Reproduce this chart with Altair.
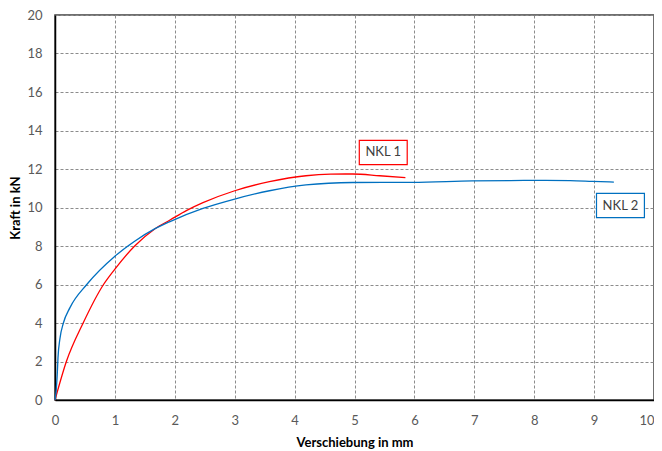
import altair as alt
import pandas as pd

# NKL 1 (red)
nkl1_x = [0.0, 0.19, 0.47, 0.81, 1.0, 1.33, 1.67, 1.92, 2.2, 2.47, 3.0, 3.58, 4.19, 4.6, 4.97, 5.42, 5.85]
nkl1_y = [0.0, 2.0, 4.0, 6.0, 6.8, 8.0, 8.9, 9.35, 9.85, 10.25, 10.87, 11.34, 11.65, 11.73, 11.74, 11.65, 11.55]

# NKL 2 (blue)
nkl2_x = [0.0, 0.02, 0.04, 0.05, 0.083, 0.14, 0.25, 0.53, 1.0, 1.33, 1.67, 1.92, 2.47, 3.0, 3.58, 4.19, 4.97, 5.97, 6.97, 7.6, 8.19, 8.6, 8.97, 9.33]
nkl2_y = [0.0, 0.5, 1.5, 2.2, 3.2, 4.0, 4.8, 6.0, 7.47, 8.25, 8.9, 9.27, 9.95, 10.44, 10.87, 11.17, 11.3, 11.31, 11.38, 11.4, 11.41, 11.4, 11.36, 11.32]

label_names = ["NKL 1", "NKL 2"]
label_x = [5.48, 9.44]
label_y = [12.86, 10.1]
label_colors = ["#ff0000", "#0070c0"]

rows = []
for i, (x, y) in enumerate(zip(nkl1_x, nkl1_y)):
    rows.append({"series": "NKL 1", "x": x, "y": y, "i": i})
for i, (x, y) in enumerate(zip(nkl2_x, nkl2_y)):
    rows.append({"series": "NKL 2", "x": x, "y": y, "i": i})
df = pd.DataFrame(rows)

box_w, box_h = 0.4, 0.63
lab = pd.DataFrame({
    "name": label_names,
    "x": label_x,
    "y": label_y,
    "x0": [v - box_w for v in label_x],
    "x1": [v + box_w for v in label_x],
    "y0": [v - box_h for v in label_y],
    "y1": [v + box_h for v in label_y],
})

xscale = alt.Scale(domain=[0, 10], nice=False, zero=False)
yscale = alt.Scale(domain=[0, 20], nice=False, zero=False)
color_scale = alt.Scale(domain=label_names, range=label_colors)

xaxis = alt.Axis(title="Verschiebung in mm", values=list(range(0, 11)), format="d",
                 grid=True, gridDash=[3, 2], gridColor="#8c8c8c", gridWidth=1,
                 ticks=False, labelPadding=14, labelFontSize=13, labelColor="#595959",
                 labelOverlap=False, labelFlush=False,
                 labelAlign={"condition": {"test": "datum.value >= 10", "value": "right"}, "value": "center"},
                 labelFont="Lato", titleFont="Lato", titleFontSize=13, titleFontWeight="bold",
                 titleColor="#000000", titlePadding=9, domainColor="#000000", domainWidth=1.5)
yaxis = alt.Axis(title="Kraft in kN", values=list(range(0, 21, 2)), format="d",
                 grid=True, gridDash=[3, 2], gridColor="#8c8c8c", gridWidth=1,
                 ticks=False, labelPadding=13, labelFontSize=13, labelColor="#595959",
                 labelOverlap=False, labelFlush=False,
                 labelFont="Lato", titleFont="Lato", titleFontSize=13, titleFontWeight="bold",
                 titleColor="#000000", titlePadding=4, domainColor="#000000", domainWidth=1.5)

lines = alt.Chart(df).mark_line(strokeWidth=1.3, interpolate="monotone").encode(
    x=alt.X("x:Q", scale=xscale, axis=xaxis),
    y=alt.Y("y:Q", scale=yscale, axis=yaxis),
    color=alt.Color("series:N", scale=color_scale, legend=None),
    order="i:Q",
    detail="series:N",
)

boxes = alt.Chart(lab).mark_rect(fill="white", strokeWidth=1.2).encode(
    x=alt.X("x0:Q", scale=xscale, axis=xaxis),
    x2="x1:Q",
    y=alt.Y("y0:Q", scale=yscale, axis=yaxis),
    y2="y1:Q",
    stroke=alt.Stroke("name:N", scale=color_scale, legend=None),
)

texts = alt.Chart(lab).mark_text(fontSize=13, font="Lato", color="#404040").encode(
    x=alt.X("x:Q", scale=xscale, axis=xaxis),
    y=alt.Y("y:Q", scale=yscale, axis=yaxis),
    text="name:N",
)

chart = alt.layer(lines, boxes, texts).properties(
    width=599, height=385,
    autosize=alt.AutoSizeParams(type="none"),
    padding={"left": 47, "top": 7, "right": 0, "bottom": 50},
).configure_view(stroke="#404040", strokeWidth=1.5)

chart.save("out.html", embed_options={"renderer": "svg", "actions": False})
